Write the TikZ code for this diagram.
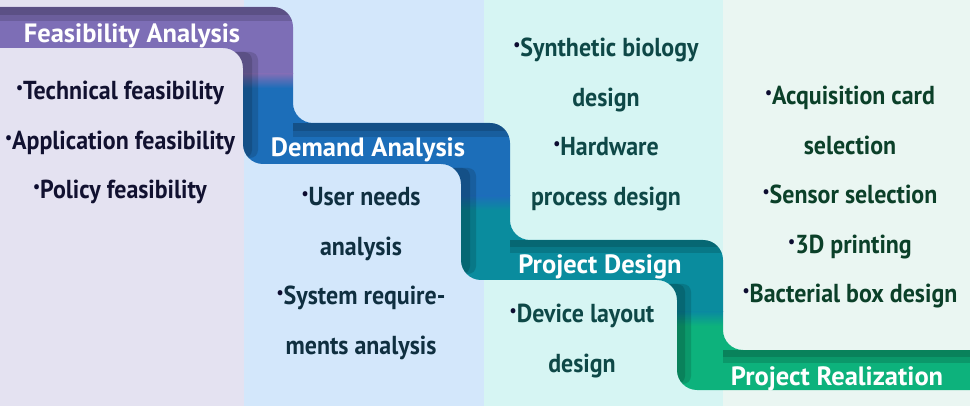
\documentclass[tikz,border=0pt]{standalone}
\usepackage{fontspec}
\setmainfont[FakeStretch=0.92]{PT Sans}
\newfontfamily\headfont{PT Sans}
\usetikzlibrary{positioning}

\definecolor{colA}{HTML}{E4E2F1}
\definecolor{colB}{HTML}{D3E7FB}
\definecolor{colC}{HTML}{D6F5F3}
\definecolor{colD}{HTML}{EAF6F2}
\definecolor{bandA}{HTML}{7D6EB6}
\definecolor{bandB}{HTML}{1C6EB9}
\definecolor{bandC}{HTML}{0A8C9E}
\definecolor{bandD}{HTML}{0DB27C}
\definecolor{textA}{HTML}{111130}
\definecolor{textB}{HTML}{0F2F40}
\definecolor{textC}{HTML}{0E4847}
\definecolor{textD}{HTML}{0B4029}
\definecolor{dot}{HTML}{0C0C30}

\newcommand{\bul}{{\color{dot}\raisebox{6pt}{\fontsize{17}{17}\selectfont\textbullet}}}

\begin{document}
\begin{tikzpicture}[x=1pt, y=-1pt, node distance=49.5pt,
  head/.style={text=white, font=\headfont\bfseries\fontsize{26.5}{26.5}\selectfont, anchor=base, inner sep=0pt},
  item/.style={font=\bfseries\fontsize{26}{26}\selectfont, inner sep=0pt, text height=18pt, text depth=6pt},
  shadow/.style={fill=black, fill opacity=0.14}]
\useasboundingbox (0,0) rectangle (970,406);
\clip (0,0) rectangle (970,406);
% column backgrounds
\fill[colA] (0,0) rectangle (244,406);
\fill[colB] (244,0) rectangle (484,406);
\fill[colC] (484,0) rectangle (723,406);
\fill[colD] (723,0) rectangle (970,406);
% the stairs
\begin{scope}
\clip[rounded corners=20pt] (-40,7) -- (293,7) -- (293,123) -- (510,123) -- (510,240) -- (723,240) -- (723,350) -- (1010,350)
  -- (1010,390) -- (677,390) -- (677,280) -- (461,280) -- (461,164) -- (243,164) -- (243,48) -- (-40,48) -- cycle;
\fill[bandA] (0,0) rectangle (970,74);
\shade[top color=bandA, bottom color=bandB] (0,74) rectangle (970,88);
\fill[bandB] (0,88) rectangle (970,196);
\shade[top color=bandB, bottom color=bandC] (0,196) rectangle (970,210);
\fill[bandC] (0,210) rectangle (970,312);
\shade[top color=bandC, bottom color=bandD] (0,312) rectangle (970,326);
\fill[bandD] (0,326) rectangle (970,406);
% shadows, two layers each
\foreach \d in {0,6} {
  \fill[shadow] (0,7) rectangle (300,21-\d);
  \fill[shadow] (293,123) rectangle (515,137-\d);
  \fill[shadow] (510,240) rectangle (730,253-\d);
  \fill[shadow] (723,350) rectangle (970,363-\d);
  \fill[shadow, rounded corners=8pt] (200,52) rectangle (258-\d,158);
  \fill[shadow, rounded corners=8pt] (420,168) rectangle (476-\d,274);
  \fill[shadow, rounded corners=8pt] (640,284) rectangle (691-\d,384);
}
\end{scope}
% stage titles
\node (feas) [head] at (132,43) {Feasibility Analysis};
\node (dem) [head] at (368,157) {Demand Analysis};
\node (des) [head] at (600,274) {Project Design};
\node (real) [head] at (837,385) {Project Realization};
% feasibility
\node (tech) [item, text=textA] at (120,94) {\bul Technical feasibility};
\node (appl) [item, text=textA] [below of=tech] {\bul Application feasibility};
\node (pol) [item, text=textA] [below of=appl] {\bul Policy feasibility};
% demand
\node (need) [item, text=textB] at (361,200) {\bul User needs};
\node (need2) [item, text=textB] [below of=need] {analysis};
\node (sys) [item, text=textB] [below of=need2] {\bul System require-};
\node (sys2) [item, text=textB] [below of=sys] {ments analysis};
% design
\node (bio) [item, text=textC] at (606,51) {\bul Synthetic biology};
\node (bio2) [item, text=textC] [below of=bio] {design};
\node (hw) [item, text=textC] [below of=bio2] {\bul Hardware};
\node (hw2) [item, text=textC] [below of=hw] {process design};
\node (lay) [item, text=textC] at (582,317) {\bul Device layout};
\node (lay2) [item, text=textC] [below of=lay] {design};
% realization
\node (acq) [item, text=textD] at (850,99) {\bul Acquisition card};
\node (acq2) [item, text=textD] [below of=acq] {selection};
\node (sen) [item, text=textD] [below of=acq2] {\bul Sensor selection};
\node (prt) [item, text=textD] [below of=sen] {\bul 3D printing};
\node (box) [item, text=textD] [below of=prt] {\bul Bacterial box design};
\end{tikzpicture}
\end{document}
